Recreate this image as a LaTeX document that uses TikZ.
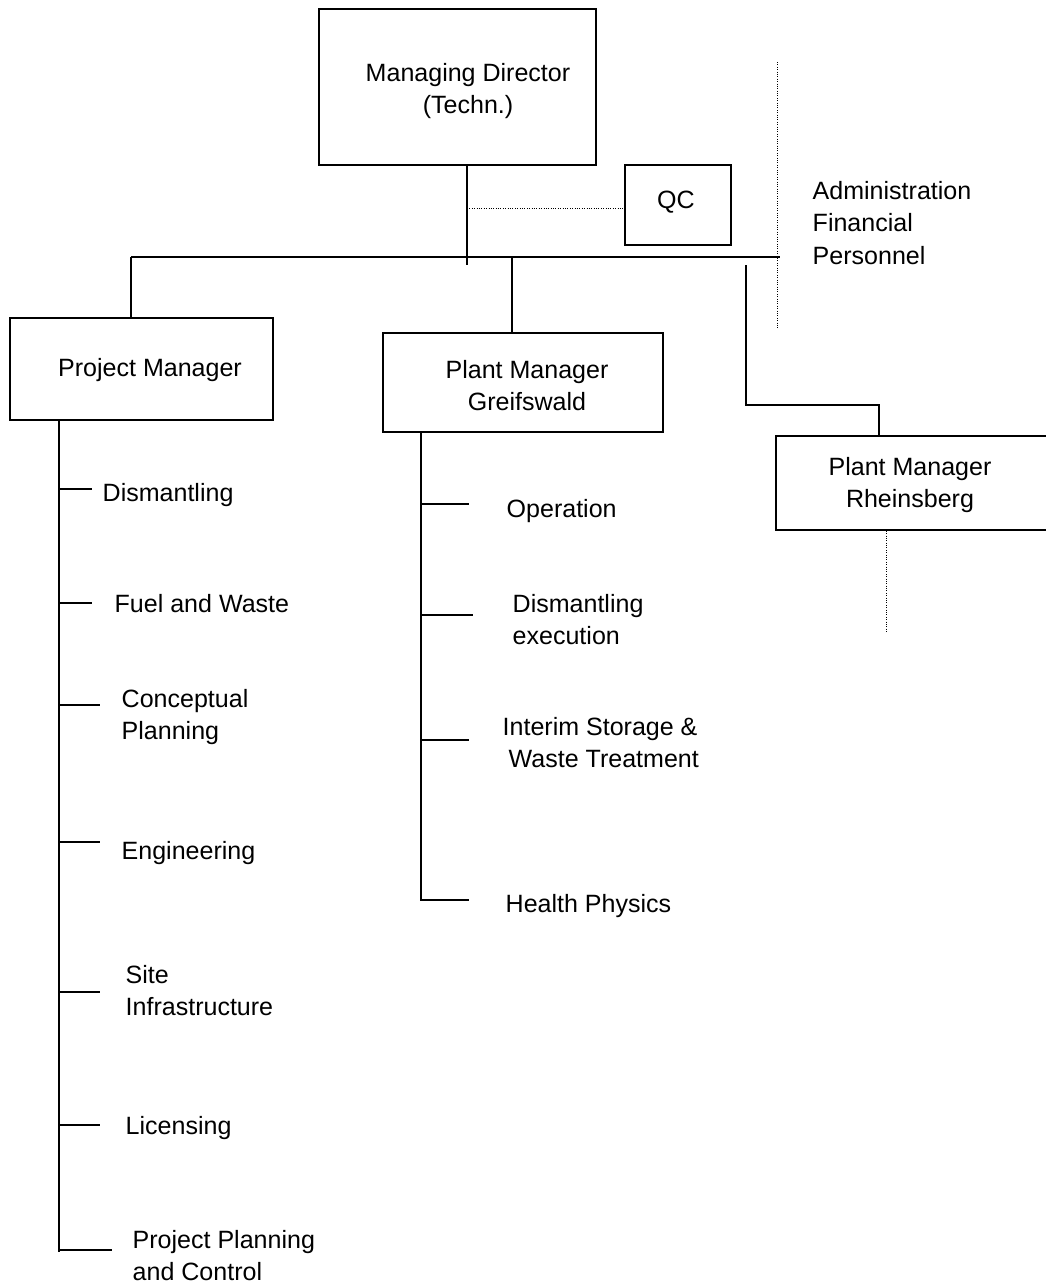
\documentclass[tikz,border=0pt]{standalone}
\usepackage{fontspec}
\setmainfont{Liberation Sans}

\begin{document}
\begin{tikzpicture}[x=0.025cm, y=-0.025cm, line width=1pt,
  every node/.style={font=\fontsize{17.8pt}{22.8pt}\selectfont},
  orgbox/.style={draw, rectangle, inner sep=0pt, align=center},
  dept/.style={anchor=west, align=left, inner sep=0pt},
  staffline/.style={densely dotted, line width=0.7pt}]
\useasboundingbox (0,0) rectangle (1046,1285);

% boxes
\node [orgbox, minimum width=6.925cm, minimum height=3.9cm] (md) at (457.5,87) {};
\node [align=center, inner sep=0pt] (mdText) at (468,91) {Managing Director\\(Techn.)};
\node [orgbox, minimum width=2.65cm, minimum height=2cm] (qc) at (678,205) {};
\node [inner sep=0pt] (qcText) at (676,202) {QC};
\node [orgbox, minimum width=6.575cm, minimum height=2.55cm] (pm) at (141.5,369) {};
\node [inner sep=0pt] (pmText) at (150,370) {Project Manager};
\node [orgbox, minimum width=7cm, minimum height=2.475cm] (gw) at (523,382.5) {};
\node [align=center, inner sep=0pt] (gwText) at (527,386) {Plant Manager\\Greifswald};
\node [orgbox, minimum width=6.85cm, minimum height=2.35cm] (rb) at (913,483) {};
\node [align=center, inner sep=0pt] (rbText) at (910,485) {Plant Manager\\Rheinsberg};
\node [dept] (admin) at (812,223) {Administration\\Financial\\Personnel};

% upper connections
\coordinate (mdEnd) at (467,265);
\coordinate (busL) at (131,257);
\coordinate (busR) at (780,257);
\coordinate (busG) at (512,257);
\coordinate (rbTop) at (746,265);
\coordinate (rbElbow) at (879,405);
\draw (mdEnd |- md.south) -- (mdEnd);
\draw [staffline](mdEnd |- 0,208) -- (qc.west |- 0,208);
\draw (busL) -- (busR);
\draw (busL) -- (busL |- pm.north);
\draw (busG) -- (busG |- gw.north);
\draw (rbTop) |- (rbElbow) -- (rbElbow |- rb.north);

% staff separators
\coordinate (admTop) at (777,62);
\coordinate (admBot) at (777,328);
\draw [staffline](admTop) -- (admBot);
\coordinate (rbDot) at (886,632);
\draw [staffline](rbDot |- rb.south) -- (rbDot);

% project manager
\coordinate (pmSpine) at (59,1252);
\draw (pmSpine |- pm.south) -- (pmSpine);
\coordinate (pmB1) at (59,489);
\coordinate (pmB2) at (59,603);
\coordinate (pmB3) at (59,705);
\coordinate (pmB4) at (59,842);
\coordinate (pmB5) at (59,992);
\coordinate (pmB6) at (59,1125);
\coordinate (pmB7) at (59,1250);
\draw (pmB1) -- ++(33,0);
\draw (pmB2) -- ++(33,0);
\draw (pmB3) -- ++(41,0);
\draw (pmB4) -- ++(41,0);
\draw (pmB5) -- ++(41,0);
\draw (pmB6) -- ++(41,0);
\draw (pmB7) -- ++(53,0);
\node [dept] (pmDism) at (102,495) {Dismantling};
\node [dept] (pmFuel) at (114,604) {Fuel and Waste};
\node [dept] (pmConc) at (121,717) {Conceptual\\Planning};
\node [dept] (pmEng) at (121,853) {Engineering};
\node [dept] (pmSite) at (125,991) {Site\\Infrastructure};
\node [dept] (pmLic) at (125,1128) {Licensing};
\node [dept] (pmPPC) at (132,1256) {Project Planning\\and Control};

% plant manager greifswald
\coordinate (gwSpine) at (421,900);
\draw (gwSpine |- gw.south) -- (gwSpine);
\coordinate (gwB1) at (421,504);
\coordinate (gwB2) at (421,615);
\coordinate (gwB3) at (421,740);
\coordinate (gwB4) at (420,900);
\draw (gwB1) -- ++(48,0);
\draw (gwB2) -- ++(52,0);
\draw (gwB3) -- ++(48,0);
\draw (gwB4) -- ++(49,0);
\node [dept] (gwOp) at (506,511) {Operation};
\node [dept] (gwDism) at (512,620) {Dismantling\\execution};
\node [dept] (gwStore) at (502,743) {Interim Storage \&\\\hspace*{0.15cm}Waste Treatment};
\node [dept] (gwHP) at (505,906) {Health Physics};
\end{tikzpicture}
\end{document}
